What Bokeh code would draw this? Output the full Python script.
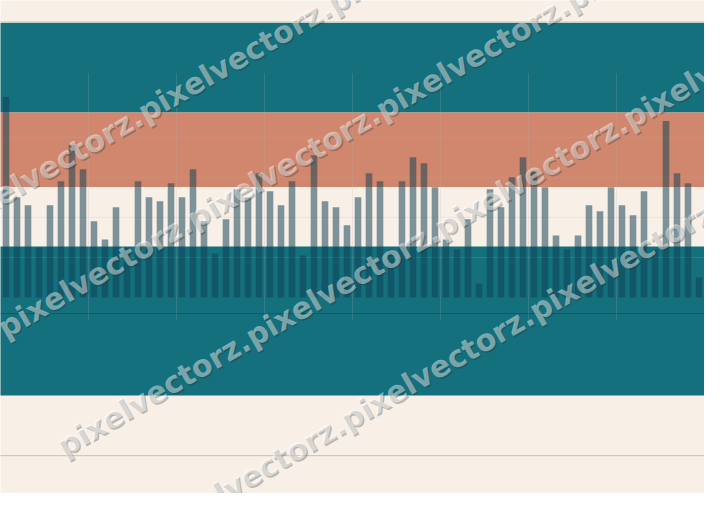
import math
from bokeh.plotting import figure
from bokeh.models import Range1d
from bokeh.embed import file_html
from bokeh.resources import INLINE
from bokeh.core.properties import value

# ---- data -------------------------------------------------------------
values = [5.0, 2.5, 2.3, 1.25, 2.3, 2.9, 3.8, 3.2, 1.9, 1.45, 2.25, 1.25, 2.9, 2.5, 2.4, 2.85,
          2.5, 3.2, 1.9, 1.1, 1.95, 2.7, 2.5, 3.1, 2.65, 2.3, 2.9, 1.05, 3.55, 2.4, 2.25, 1.8,
          2.5, 3.1, 2.9, 1.2, 2.9, 3.5, 3.35, 2.75, 1.45, 1.2, 1.95, 0.35, 2.7, 2.25, 3.0, 3.5,
          3.15, 2.75, 1.55, 1.2, 1.55, 2.3, 2.15, 2.75, 2.3, 2.05, 2.65, 1.2, 4.4, 3.1, 2.85, 0.5]
positions = list(range(len(values)))

# background bands (value units): bottom, top, colour
band_bottoms = [4.614, 2.754, -2.44]
band_tops = [6.853, 4.614, 1.273]
band_colors = ["#14707d", "#d1876e", "#14707d"]

grid_y = [1, 2, 3, 4]
grid_x = [7.5, 15.5, 23.5, 31.5, 39.5, 47.5, 55.5]

watermark = "pixelvectorz." * 6

CREAM = "#f8efe7"
W, H = 704, 493
X0, X1 = -0.5, 63.5
Y0, Y1 = -4.887, 7.408

p = figure(width=W, height=H, output_backend="svg", toolbar_location=None,
           x_range=Range1d(X0, X1), y_range=Range1d(Y0, Y1),
           x_axis_location=None, y_axis_location=None, min_border=0,
           background_fill_color=CREAM, border_fill_color=CREAM,
           outline_line_color=None)
p.xgrid.visible = False
p.ygrid.visible = False

# bands
p.quad(left=X0 - 1, right=X1 + 1, bottom=band_bottoms, top=band_tops,
       fill_color=band_colors, line_color=None)

# thin rules
p.segment(x0=X0 - 1, x1=X1 + 1, y0=6.877, y1=6.877, line_color="#dccdc4", line_width=1)
p.segment(x0=X0 - 1, x1=X1 + 1, y0=-3.944, y1=-3.944, line_color="#c9beb5", line_width=1)

# grid
p.segment(x0=X0 - 1, x1=X1 + 1, y0=grid_y, y1=grid_y,
          line_color="#b4b4b4", line_alpha=0.2, line_width=1)
p.segment(x0=grid_x, x1=grid_x, y0=-0.57, y1=5.6,
          line_color="#b4b4b4", line_alpha=0.2, line_width=1)
p.segment(x0=X0 - 1, x1=X1 + 1, y0=-0.4, y1=-0.4,
          line_color="#000000", line_alpha=0.2, line_width=1)

# bars
p.vbar(x=positions, top=values, bottom=0, width=0.6,
       fill_color="#0f4354", fill_alpha=0.53, line_color=None)

# watermark (positions given in reference pixels, converted to value units)
def px_x(px):
    return X0 + px / 720 * (X1 - X0)

def px_y(py):
    return Y1 - py / 509 * (Y1 - Y0)

starts = [(-50, 230), (0, 340), (60, 462), (157, 548)]
ang = math.radians(30)
for sx, sy in starts:
    p.text(x=[px_x(sx + 1.5)], y=[px_y(sy + 1.5)], text=[watermark], angle=ang,
           text_font=value("DejaVu Sans"), text_font_style="bold", text_font_size="30px",
           text_color="#1e2a2a", text_alpha=0.3, text_align="left", text_baseline="middle")
    p.text(x=[px_x(sx)], y=[px_y(sy)], text=[watermark], angle=ang,
           text_font=value("DejaVu Sans"), text_font_style="bold", text_font_size="30px",
           text_color="#ffffff", text_alpha=0.45, text_align="left", text_baseline="middle")

open("out.html", "w").write(file_html(p, INLINE))
